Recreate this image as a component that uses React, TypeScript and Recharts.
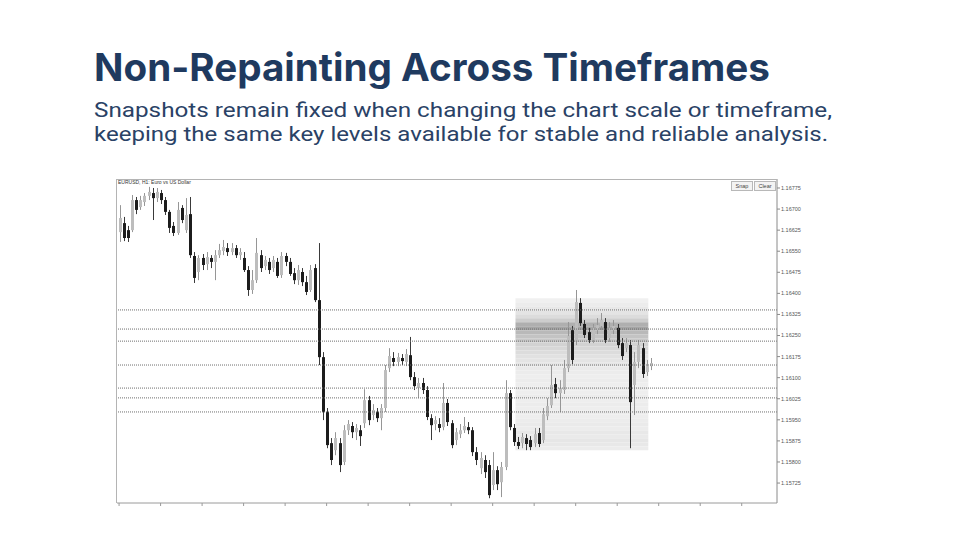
import React from 'react';
import { ComposedChart, Bar, XAxis, YAxis, ReferenceLine, ReferenceArea } from 'recharts';

const opens = [1.16618,1.16650,1.16625,1.16625,1.16732,1.16707,1.16725,1.16747,1.16757,1.16739,1.16757,1.16732,1.16690,1.16640,1.16615,1.16704,1.16625,1.16682,1.16533,1.16476,1.16526,1.16504,1.16526,1.16512,1.16536,1.16551,1.16561,1.16547,1.16561,1.16536,1.16526,1.16483,1.16412,1.16447,1.16536,1.16497,1.16512,1.16490,1.16512,1.16465,1.16533,1.16512,1.16472,1.16447,1.16476,1.16440,1.16412,1.16490,1.16376,1.16173,1.15978,1.15867,1.15842,1.15867,1.15800,1.15913,1.15928,1.15906,1.15913,1.15938,1.16020,1.15967,1.15978,1.15956,1.15992,1.16134,1.16170,1.16156,1.16170,1.16156,1.16180,1.16102,1.16063,1.16081,1.16056,1.15956,1.15935,1.15935,1.15924,1.16010,1.15938,1.15878,1.15899,1.15913,1.15924,1.15913,1.15835,1.15778,1.15807,1.15789,1.15718,1.15771,1.15728,1.15782,1.16045,1.15921,1.15871,1.15867,1.15885,1.15878,1.15867,1.15903,1.15878,1.15963,1.16002,1.16077,1.16045,1.16056,1.16134,1.16269,1.16227,1.16366,1.16291,1.16262,1.16234,1.16269,1.16284,1.16298,1.16241,1.16269,1.16277,1.16223,1.16205,1.16216,1.16074,1.16156,1.16205,1.16120,1.16141];
const highs = [1.16714,1.16672,1.16640,1.16750,1.16743,1.16747,1.16757,1.16779,1.16775,1.16775,1.16768,1.16743,1.16697,1.16654,1.16725,1.16714,1.16739,1.16743,1.16547,1.16536,1.16540,1.16547,1.16536,1.16554,1.16576,1.16590,1.16579,1.16579,1.16572,1.16561,1.16547,1.16497,1.16483,1.16597,1.16554,1.16533,1.16526,1.16533,1.16526,1.16547,1.16544,1.16526,1.16490,1.16501,1.16490,1.16462,1.16501,1.16504,1.16579,1.16191,1.15992,1.15885,1.15906,1.15885,1.15931,1.15949,1.15942,1.15935,1.15931,1.16059,1.16035,1.16006,1.15992,1.16006,1.16145,1.16205,1.16191,1.16188,1.16184,1.16202,1.16245,1.16120,1.16099,1.16099,1.16070,1.15970,1.15963,1.15956,1.16081,1.16024,1.15949,1.15921,1.15935,1.15960,1.15942,1.15924,1.15853,1.15835,1.15824,1.15807,1.15835,1.15785,1.15800,1.16091,1.16056,1.15935,1.15889,1.15903,1.15899,1.15892,1.15921,1.15921,1.15992,1.16027,1.16145,1.16099,1.16091,1.16163,1.16298,1.16284,1.16412,1.16383,1.16305,1.16277,1.16291,1.16312,1.16330,1.16312,1.16298,1.16305,1.16291,1.16241,1.16241,1.16234,1.16191,1.16234,1.16223,1.16163,1.16170];
const lows = [1.16583,1.16586,1.16583,1.16618,1.16682,1.16697,1.16711,1.16732,1.16661,1.16725,1.16718,1.16679,1.16615,1.16604,1.16608,1.16650,1.16615,1.16526,1.16437,1.16447,1.16483,1.16483,1.16490,1.16447,1.16526,1.16536,1.16533,1.16536,1.16526,1.16519,1.16476,1.16391,1.16398,1.16437,1.16476,1.16483,1.16469,1.16476,1.16455,1.16455,1.16497,1.16462,1.16433,1.16430,1.16426,1.16394,1.16405,1.16369,1.16145,1.15949,1.15849,1.15789,1.15824,1.15764,1.15789,1.15896,1.15885,1.15878,1.15857,1.15921,1.15931,1.15949,1.15942,1.15913,1.15978,1.16120,1.16141,1.16141,1.16145,1.16141,1.16091,1.16056,1.16027,1.16042,1.15949,1.15878,1.15913,1.15906,1.15913,1.15928,1.15849,1.15860,1.15885,1.15903,1.15899,1.15821,1.15789,1.15757,1.15743,1.15671,1.15700,1.15700,1.15675,1.15771,1.15913,1.15857,1.15846,1.15849,1.15842,1.15842,1.15853,1.15853,1.15867,1.15949,1.15992,1.16027,1.15978,1.16042,1.16120,1.16148,1.16216,1.16284,1.16241,1.16223,1.16223,1.16255,1.16269,1.16223,1.16227,1.16255,1.16205,1.16163,1.16191,1.15849,1.15967,1.16134,1.16099,1.16106,1.16127];
const closes = [1.16668,1.16597,1.16597,1.16732,1.16697,1.16732,1.16747,1.16761,1.16739,1.16761,1.16732,1.16690,1.16633,1.16615,1.16697,1.16661,1.16679,1.16536,1.16455,1.16526,1.16501,1.16529,1.16512,1.16536,1.16554,1.16565,1.16547,1.16561,1.16536,1.16547,1.16483,1.16412,1.16447,1.16544,1.16490,1.16519,1.16483,1.16519,1.16462,1.16533,1.16512,1.16469,1.16447,1.16483,1.16440,1.16405,1.16483,1.16376,1.16173,1.15978,1.15860,1.15807,1.15885,1.15789,1.15913,1.15935,1.15906,1.15921,1.15892,1.16020,1.15949,1.15985,1.15956,1.15992,1.16127,1.16177,1.16156,1.16173,1.16159,1.16184,1.16102,1.16070,1.16081,1.16056,1.15960,1.15931,1.15949,1.15921,1.16010,1.15942,1.15860,1.15906,1.15913,1.15928,1.15913,1.15835,1.15807,1.15814,1.15764,1.15682,1.15771,1.15721,1.15782,1.16045,1.15924,1.15871,1.15857,1.15889,1.15864,1.15853,1.15899,1.15864,1.15970,1.15999,1.16074,1.16045,1.16063,1.16134,1.16248,1.16163,1.16369,1.16294,1.16252,1.16234,1.16277,1.16287,1.16305,1.16234,1.16277,1.16284,1.16216,1.16177,1.16223,1.16013,1.16156,1.16216,1.16113,1.16141,1.16152];

const totalSlots = 159;
const timeTicks = [0, 10, 20, 30, 40, 50, 60, 70, 80, 90, 100, 110, 120, 130, 140, 150];
const priceTicks = [1.16775, 1.167, 1.16625, 1.1655, 1.16475, 1.164, 1.16325, 1.1625, 1.16175, 1.161, 1.16025, 1.1595, 1.15875, 1.158, 1.15725];
const priceDomain = [1.15654, 1.16807];
const levels = [1.16341, 1.16273, 1.1623, 1.16145, 1.16063, 1.16028, 1.15978];

const profileTop = 1.16383;
const profileBottom = 1.15842;
const profileStart = 96;
const profileEnd = 127;
const profileShades = [240, 236, 232, 228, 220, 205, 175, 165, 185, 195, 200, 210, 215, 220, 225, 228, 230, 234, 236, 238, 236, 238, 236, 238, 236, 238, 236, 238, 236, 238, 236, 234, 236, 232, 234, 230, 232, 236];

const subtitleLines = [
  'Snapshots remain fixed when changing the chart scale or timeframe,',
  'keeping the same key levels available for stable and reliable analysis.',
];

const data = Array.from({ length: totalSlots }, (_, i) =>
  i < opens.length
    ? { i, open: opens[i], high: highs[i], low: lows[i], close: closes[i], range: [lows[i], highs[i]] }
    : { i, range: null }
);

const Candle = (props: any) => {
  const { x, y, width, height, payload } = props;
  if (!payload || payload.open == null || !isFinite(y) || !isFinite(height)) return null;
  const { open, close, high, low } = payload;
  const top = Math.min(y, y + height);
  const h = Math.abs(height);
  const k = high === low ? 0 : h / (high - low);
  const bTop = top + (high - Math.max(open, close)) * k;
  const bH = Math.max(1, Math.abs(open - close) * k);
  const bull = close >= open;
  const cx = Math.round(x + width / 2) + 0.5;
  return (
    <g>
      <line x1={cx} x2={cx} y1={top} y2={top + h} stroke={bull ? '#969696' : '#3a3a3a'} strokeWidth={1} />
      <rect x={cx - 1.5} y={bTop} width={3} height={bH} fill={bull ? '#bdbdbd' : '#1c1c1c'} />
    </g>
  );
};

const step = (profileTop - profileBottom) / profileShades.length;

export default function App() {
  return (
    <div style={{ position: 'absolute', left: 0, top: 0, width: 960, height: 540, background: '#ffffff', overflow: 'hidden' }}>
      <div style={{ position: 'absolute', left: 0, top: 0 }}>
        <ComposedChart width={960} height={540} data={data} margin={{ top: 179, left: 117, right: 143, bottom: 27 }}>
          {profileShades.map((g, b) => (
            <ReferenceArea
              key={'p' + b}
              x1={profileStart}
              x2={profileEnd}
              y1={profileTop - (b + 1) * step}
              y2={profileTop - b * step}
              fill={`rgb(${g},${g},${g})`}
              fillOpacity={1}
              stroke="none"
              ifOverflow="visible"
            />
          ))}
          {levels.map((lv) => (
            <ReferenceLine key={'l' + lv} y={lv} stroke="#6e6e6e" strokeDasharray="1 1" strokeWidth={1} />
          ))}
          <XAxis
            dataKey="i"
            type="category"
            ticks={timeTicks}
            interval={0}
            tickFormatter={() => ''}
            tickSize={3}
            height={10}
            axisLine={{ stroke: '#9a9a9a' }}
            tickLine={{ stroke: '#9a9a9a' }}
          />
          <YAxis
            orientation="right"
            type="number"
            domain={priceDomain}
            allowDataOverflow
            ticks={priceTicks}
            interval={0}
            tickFormatter={(v: number) => v.toFixed(5)}
            width={40}
            tickSize={3}
            tickMargin={1}
            axisLine={{ stroke: '#8a8a8a' }}
            tickLine={{ stroke: '#8a8a8a' }}
            tick={{ fontSize: 5.5, fill: '#555', fontFamily: 'Liberation Sans, Arial, sans-serif' }}
          />
          <Bar dataKey="range" shape={<Candle />} barSize={3} isAnimationActive={false} />
        </ComposedChart>
      </div>
      <svg width={960} height={540} style={{ position: 'absolute', left: 0, top: 0, pointerEvents: 'none' }}>
        <line x1={117} y1={179.5} x2={777} y2={179.5} stroke="#b4b4b4" strokeWidth={1} />
        <line x1={116.5} y1={179} x2={116.5} y2={503} stroke="#b4b4b4" strokeWidth={1} />
        <text x={118} y={184} fontSize={5} fill="#333" fontFamily="Liberation Sans, Arial, sans-serif">EURUSD, H1:  Euro vs US Dollar</text>
        <rect x={731.5} y={181.5} width={21} height={9} fill="#f3f3f3" stroke="#b8b8b8" />
        <text x={742} y={188.2} fontSize={5.5} fill="#444" textAnchor="middle" fontFamily="Liberation Sans, Arial, sans-serif">Snap</text>
        <rect x={754.5} y={181.5} width={21} height={9} fill="#f3f3f3" stroke="#b8b8b8" />
        <text x={765} y={188.2} fontSize={5.5} fill="#444" textAnchor="middle" fontFamily="Liberation Sans, Arial, sans-serif">Clear</text>
        <text x={94} y={81} fontSize={38} fontWeight={700} fill="#1f3a5f" fontFamily="Inter, 'Open Sans', sans-serif" textLength={676} lengthAdjust="spacingAndGlyphs">Non-Repainting Across Timeframes</text>
        <text x={94} y={116.5} fontSize={20} fontWeight={400} fill="#2a4266" fontFamily="Roboto, sans-serif" textLength={738} lengthAdjust="spacingAndGlyphs">{subtitleLines[0]}</text>
        <text x={94} y={140.5} fontSize={20} fontWeight={400} fill="#2a4266" fontFamily="Roboto, sans-serif" textLength={734} lengthAdjust="spacingAndGlyphs">{subtitleLines[1]}</text>
      </svg>
    </div>
  );
}
